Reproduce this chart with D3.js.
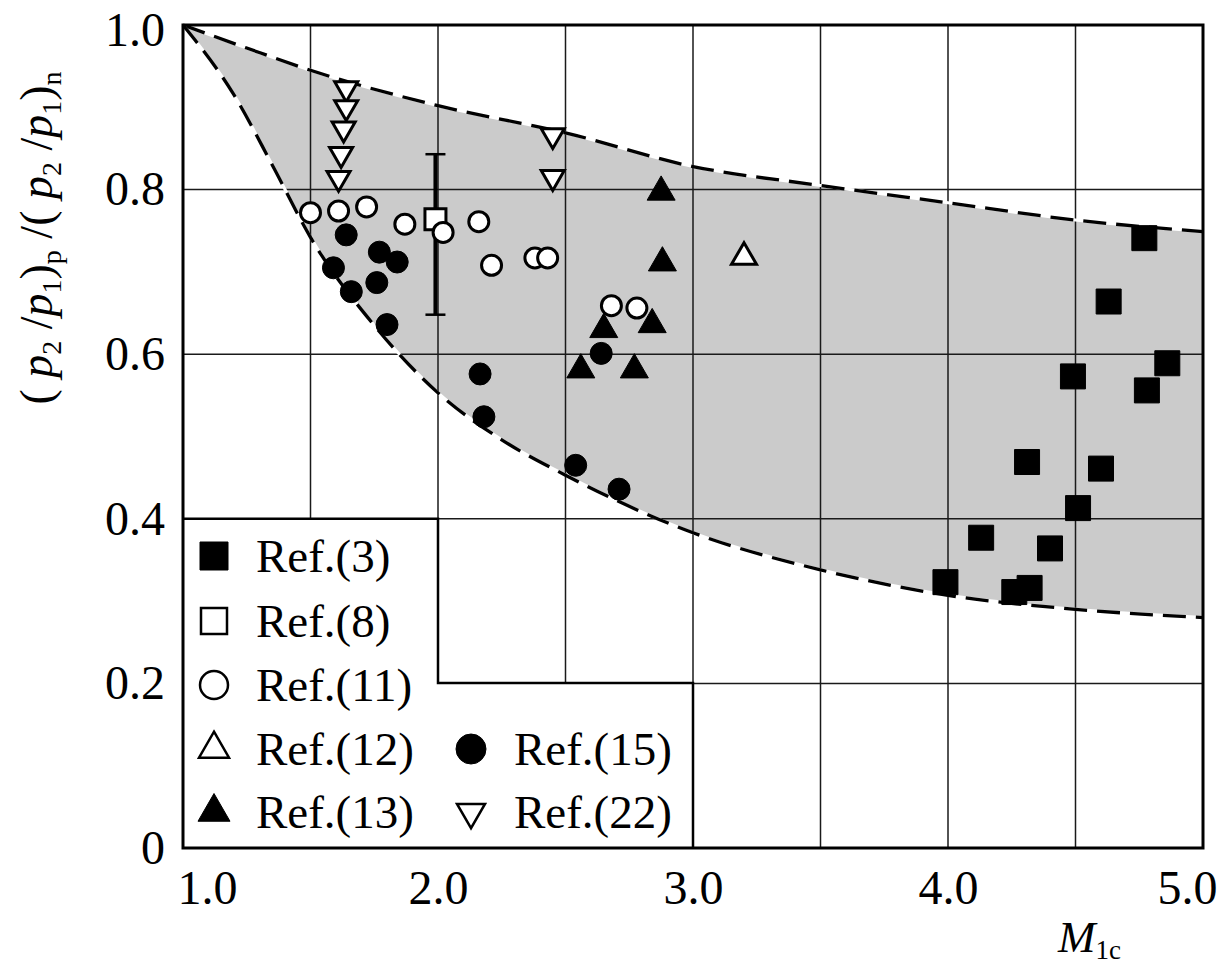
<!DOCTYPE html>
<html>
<head>
<meta charset="utf-8">
<script src="https://cdn.jsdelivr.net/npm/d3@7"></script>
<style>
  body { margin: 0; background: #fff; }
  text { font-family: "Liberation Serif", "Times New Roman", serif; fill: #000; }
</style>
</head>
<body>
<svg id="chart" width="1225" height="964"></svg>
<script>
// axis ticks and grid
var xTicks = [1.0, 2.0, 3.0, 4.0, 5.0],
    yTicks = [0, 0.2, 0.4, 0.6, 0.8, 1.0],
    xGrid = [1.5, 2.0, 2.5, 3.0, 3.5, 4.0, 4.5],
    yGrid = [0.2, 0.4, 0.6, 0.8];

// band boundaries
var upperM = [1.0, 1.25, 1.5, 2.0, 2.5, 3.0, 3.5, 4.0, 4.5, 5.0],
    upperV = [1.0, 0.972, 0.945, 0.902, 0.869, 0.828, 0.805, 0.784, 0.763, 0.749];
var lowerM = [1.0, 1.2, 1.35, 1.5, 1.75, 2.0, 2.25, 2.5, 3.0, 3.5, 4.0, 4.5, 5.0],
    lowerV = [1.0, 0.915, 0.83, 0.742, 0.635, 0.553, 0.496, 0.453, 0.383, 0.338, 0.307, 0.29, 0.28];

// measured points
var ref3M = [4.77, 4.63, 4.86, 4.49, 4.78, 4.31, 4.60, 4.51, 4.13, 4.40, 3.99, 4.26, 4.32],
    ref3V = [0.741, 0.664, 0.589, 0.573, 0.556, 0.469, 0.461, 0.413, 0.377, 0.364, 0.323, 0.311, 0.316];
var ref8M = [1.99],
    ref8V = [0.764],
    ref8Lo = [0.648],
    ref8Hi = [0.843];
var ref11M = [1.50, 1.61, 1.72, 1.87, 2.02, 2.16, 2.21, 2.38, 2.43, 2.68, 2.78],
    ref11V = [0.772, 0.774, 0.779, 0.758, 0.748, 0.761, 0.708, 0.717, 0.717, 0.659, 0.656];
var ref12M = [3.20],
    ref12V = [0.718];
var ref13M = [2.875, 2.88, 2.84, 2.65, 2.56, 2.77],
    ref13V = [0.797, 0.711, 0.636, 0.630, 0.581, 0.581];
var ref15M = [1.64, 1.77, 1.84, 1.59, 1.76, 1.66, 1.80, 2.165, 2.18, 2.64, 2.54, 2.71],
    ref15V = [0.745, 0.724, 0.712, 0.705, 0.687, 0.676, 0.636, 0.576, 0.524, 0.601, 0.465, 0.436];
var ref22M = [1.64, 1.64, 1.63, 1.62, 1.61, 2.45, 2.45],
    ref22V = [0.923, 0.900, 0.874, 0.843, 0.814, 0.866, 0.815];

var legendLabels = ['Ref.(3)', 'Ref.(8)', 'Ref.(11)', 'Ref.(12)', 'Ref.(13)', 'Ref.(15)', 'Ref.(22)'];

var svg = d3.select('#chart');

var x = d3.scaleLinear().domain([1, 5]).range([183, 1203]),
    y = d3.scaleLinear().domain([0, 1]).range([848, 25]);

function zip(ms, vs) {
    return ms.map(function(m, i) { return [m, vs[i]]; });
}

var line = d3.line()
    .x(function(d) { return x(d[0]); })
    .y(function(d) { return y(d[1]); })
    .curve(d3.curveMonotoneX);

var upperPts = zip(upperM, upperV),
    lowerPts = zip(lowerM, lowerV);

// grey band between the two curves
var bandPath = line(upperPts) + 'L' + line(lowerPts.slice().reverse()).slice(1) + 'Z';
svg.append('path')
    .attr('d', bandPath)
    .attr('fill', '#cbcbcb');

// grid
svg.append('g').selectAll('line')
    .data(xGrid)
    .enter().append('line')
        .attr('x1', function(d) { return x(d); })
        .attr('x2', function(d) { return x(d); })
        .attr('y1', y(0))
        .attr('y2', y(1))
        .attr('stroke', '#1a1a1a')
        .attr('stroke-width', 1.5);

svg.append('g').selectAll('line')
    .data(yGrid)
    .enter().append('line')
        .attr('y1', function(d) { return y(d); })
        .attr('y2', function(d) { return y(d); })
        .attr('x1', x(1))
        .attr('x2', x(5))
        .attr('stroke', '#1a1a1a')
        .attr('stroke-width', 1.5);

// dashed boundary curves, white underlay so the gaps read white
[upperPts, lowerPts].forEach(function(pts) {
    svg.append('path')
        .attr('d', line(pts))
        .attr('fill', 'none')
        .attr('stroke', '#fff')
        .attr('stroke-width', 3);
    svg.append('path')
        .attr('d', line(pts))
        .attr('fill', 'none')
        .attr('stroke', '#000')
        .attr('stroke-width', 3.3)
        .attr('stroke-dasharray', '23,10');
});

// legend box (stepped)
var lgTop = y(0.4), lgStepX = x(2.0), lgStepY = 683, lgRight = x(3.0);
svg.append('path')
    .attr('d', 'M' + x(1) + ',' + lgTop + 'H' + lgStepX + 'V' + lgStepY +
        'H' + lgRight + 'V' + y(0) + 'H' + x(1) + 'Z')
    .attr('fill', '#fff');
svg.append('path')
    .attr('d', 'M' + x(1) + ',' + lgTop + 'H' + lgStepX + 'V' + lgStepY +
        'H' + lgRight + 'V' + y(0))
    .attr('fill', 'none')
    .attr('stroke', '#000')
    .attr('stroke-width', 2.5);

// symbols
var sym = {
    square: function(s) { return d3.symbol().type(d3.symbolSquare).size(s * s)(); },
    circle: function(s) { return d3.symbol().type(d3.symbolCircle).size(Math.PI * s * s / 4)(); },
    tri: function(s) { return d3.symbol().type(d3.symbolTriangle).size(Math.sqrt(3) / 4 * s * s)(); }
};

function drawSeries(ms, vs, path, fill, rot) {
    svg.append('g').selectAll('path')
        .data(zip(ms, vs))
        .enter().append('path')
            .attr('d', path)
            .attr('transform', function(d) {
                return 'translate(' + x(d[0]) + ',' + y(d[1]) + ')' + (rot ? ' rotate(180)' : '');
            })
            .attr('fill', fill ? '#000' : '#fff')
            .attr('stroke', '#000')
            .attr('stroke-width', fill ? 1 : 3);
}

drawSeries(ref15M, ref15V, sym.circle(22), true);
drawSeries(ref13M, ref13V, sym.tri(28), true);
drawSeries(ref3M, ref3V, sym.square(25), true);

// error bar for Ref.(8)
var eb = svg.append('g').attr('stroke', '#000');
ref8M.forEach(function(m, i) {
    eb.append('line')
        .attr('x1', x(m)).attr('x2', x(m))
        .attr('y1', y(ref8Lo[i])).attr('y2', y(ref8Hi[i]))
        .attr('stroke-width', 4);
    [ref8Lo[i], ref8Hi[i]].forEach(function(v) {
        eb.append('line')
            .attr('x1', x(m) - 10).attr('x2', x(m) + 10)
            .attr('y1', y(v)).attr('y2', y(v))
            .attr('stroke-width', 2.5);
    });
});
drawSeries(ref8M, ref8V, sym.square(21), false);
drawSeries(ref11M, ref11V, sym.circle(20), false);
drawSeries(ref12M, ref12V, sym.tri(25), false);
drawSeries(ref22M, ref22V, sym.tri(23), false, true);

// frame
svg.append('rect')
    .attr('x', x(1)).attr('y', y(1))
    .attr('width', x(5) - x(1)).attr('height', y(0) - y(1))
    .attr('fill', 'none')
    .attr('stroke', '#000')
    .attr('stroke-width', 3);

// axes labels
var yAxis = d3.axisLeft(y).tickValues(yTicks).tickSize(0).tickPadding(18)
    .tickFormat(function(d) { return d === 0 ? '0' : d.toFixed(1); });
var gy = svg.append('g').attr('transform', 'translate(' + x(1) + ',0)').call(yAxis);
gy.select('.domain').remove();
gy.selectAll('text').style('font-size', '48px').attr('font-family', null)
    .attr('dy', function(d) { return d === 1 ? '0.42em' : '0.32em'; });

var xAxis = d3.axisBottom(x).tickValues(xTicks).tickSize(0).tickPadding(22)
    .tickFormat(function(d) { return d.toFixed(1); });
var gx = svg.append('g').attr('transform', 'translate(0,' + y(0) + ')').call(xAxis);
gx.select('.domain').remove();
gx.selectAll('text').style('font-size', '48px').attr('font-family', null)
    .attr('dx', function(d) { return d === 1 ? 24 : (d === 5 ? -16 : 0); });

// x title
var xt = svg.append('text').attr('x', 1058).attr('y', 952).style('font-size', '45px');
xt.append('tspan').style('font-style', 'italic').text('M');
xt.append('tspan').attr('dy', 7).style('font-size', '27px').text('1c');

// y title
var yt = svg.append('text')
    .attr('transform', 'translate(52,238) rotate(-90)')
    .attr('text-anchor', 'middle')
    .style('font-size', '46px');
var parts = [
    ['( ', 0], ['p', 1], ['2', 2], [' /', 0], ['p', 1], ['1', 2], [')', 0], ['p', 3],
    [' /( ', 0], ['p', 1], ['2', 2], [' /', 0], ['p', 1], ['1', 2], [')', 0], ['n', 3]
];
var shifted = false;
parts.forEach(function(p) {
    var t = yt.append('tspan').text(p[0]);
    if (p[1] === 1) t.style('font-style', 'italic');
    if (p[1] >= 2) {
        t.style('font-size', '28px');
        if (!shifted) { t.attr('dy', 9); shifted = true; }
    } else if (shifted) {
        t.attr('dy', -9);
        shifted = false;
    }
});
yt.style('white-space', 'pre');

// legend entries
var lgRows = [556, 621, 685, 749, 812],
    lgSym = [
        {d: sym.square(28), fill: true, col: 0, row: 0},
        {d: sym.square(26), fill: false, col: 0, row: 1},
        {d: sym.circle(28), fill: false, col: 0, row: 2},
        {d: sym.tri(30), fill: false, col: 0, row: 3},
        {d: sym.tri(32), fill: true, col: 0, row: 4},
        {d: sym.circle(30), fill: true, col: 1, row: 3},
        {d: sym.tri(28), fill: false, col: 1, row: 4, rot: true}
    ],
    lgColX = [214, 471],
    lgTextX = [256, 514];

var lg = svg.append('g');
lgSym.forEach(function(s, i) {
    lg.append('path')
        .attr('d', s.d)
        .attr('transform', 'translate(' + lgColX[s.col] + ',' + lgRows[s.row] + ')' + (s.rot ? ' rotate(180)' : ''))
        .attr('fill', s.fill ? '#000' : '#fff')
        .attr('stroke', '#000')
        .attr('stroke-width', s.fill ? 1 : 2.5);
    lg.append('text')
        .attr('x', lgTextX[s.col])
        .attr('y', lgRows[s.row] + 16)
        .style('font-size', '47px')
        .text(legendLabels[i]);
});
</script>
</body>
</html>
